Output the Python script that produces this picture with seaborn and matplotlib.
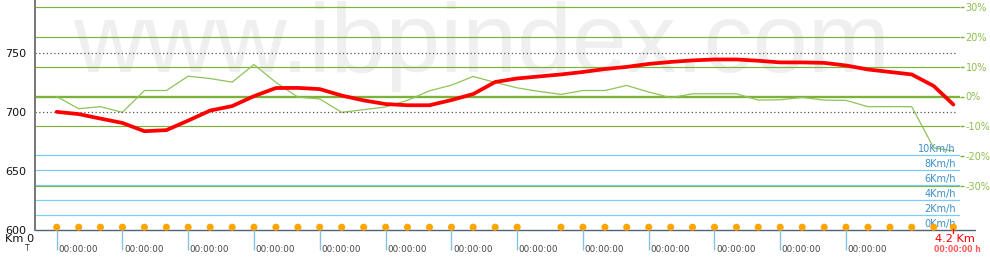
import numpy as np
import pandas as pd
import matplotlib
matplotlib.use("Agg")
import matplotlib.pyplot as plt
from matplotlib.transforms import ScaledTranslation, blended_transform_factory
import seaborn as sns

# ---------------- data ----------------
distance_km = [0.000, 0.103, 0.205, 0.308, 0.411, 0.514, 0.616, 0.719, 0.822, 0.924,
               1.027, 1.130, 1.232, 1.335, 1.438, 1.541, 1.643, 1.746, 1.849, 1.951,
               2.054, 2.157, 2.259, 2.362, 2.465, 2.568, 2.670, 2.773, 2.876, 2.978,
               3.081, 3.184, 3.286, 3.389, 3.492, 3.595, 3.697, 3.800, 3.903, 4.005,
               4.108, 4.200]
elevation_m = [699.7, 697.8, 694.0, 690.3, 683.3, 684.2, 692.3, 700.8, 704.6, 713.0,
               719.9, 720.0, 719.0, 713.5, 709.4, 706.3, 705.3, 705.3, 709.7, 714.8,
               725.0, 728.0, 729.7, 731.4, 733.5, 736.0, 737.8, 740.3, 742.0, 743.3,
               744.1, 744.1, 743.0, 741.6, 741.6, 741.2, 739.0, 735.6, 733.5, 731.4,
               721.6, 705.9]
grade_pct = [0.0, -4.1, -3.4, -5.3, 2.0, 2.0, 6.8, 6.0, 4.8, 10.7,
             4.7, -0.2, -0.8, -5.3, -4.4, -3.5, -1.3, 1.9, 3.8, 6.7,
             4.7, 2.9, 1.7, 0.7, 2.0, 2.0, 3.7, 1.5, -0.4, 0.9,
             0.9, 0.9, -1.2, -1.1, -0.3, -1.2, -1.3, -3.4, -3.4, -3.4,
             -17.2, -18.2]
speed_kmh = [0, 0, 0, 0, 0, 0, 0, 0, 0, 0, 0, 0, 0, 0, 0, 0, 0, 0, 0, 0, 0,
             0, 0, 0, 0, 0, 0, 0, 0, 0, 0, 0, 0, 0, 0, 0, 0, 0, 0, 0, 0, 0]
point_shown = [1, 1, 1, 1, 1, 1, 1, 1, 1, 1, 1, 1, 1, 1, 1, 1, 1, 1, 1, 1, 1,
               1, 0, 1, 1, 1, 1, 1, 1, 1, 1, 1, 1, 1, 1, 1, 1, 1, 1, 1, 1, 1]
time_tick_km = [0.000, 0.308, 0.616, 0.924, 1.232, 1.541, 1.849, 2.157, 2.465,
                2.773, 3.081, 3.389, 3.697]
time_tick_labels = ["00:00:00"] * 13
elev_ticks = [600, 650, 700, 750]
elev_grid = [700, 750]
pct_ticks = [30, 20, 10, 0, -10, -20, -30]
pct_labels = ["30%", "20%", "10%", "0%", "-10%", "-20%", "-30%"]
pct_grid = [30, 20, 10, 0, -10, -30]
speed_ticks = [0, 2, 4, 6, 8, 10]
speed_labels = ["0Km/h", "2Km/h", "4Km/h", "6Km/h", "8Km/h", "10Km/h"]
total_time = "00:00:00 h"

df = pd.DataFrame({"km": distance_km, "elev": elevation_m, "grade": grade_pct,
                   "speed": speed_kmh, "shown": point_shown})

# ---------------- style ----------------
sns.set_theme(style="white")
plt.rcParams["font.family"] = ["DejaVu Sans"]
plt.rcParams["axes.unicode_minus"] = False

W, H, DPI = 990, 270, 100
fig = plt.figure(figsize=(W / DPI, H / DPI), dpi=DPI)
fig.patch.set_facecolor("white")

L, R, T, B = 35, 960, 0, 229.5
rect = [L / W, (H - B) / H, (R - L) / W, (B - T) / H]
ax_el = fig.add_axes(rect)
ax_pc = ax_el.twinx()
ax_sp = ax_el.twinx()

ax_pc.set_zorder(1)
ax_sp.set_zorder(2)
ax_el.set_zorder(3)
ax_pc.patch.set_visible(True)
ax_pc.patch.set_facecolor("white")
ax_sp.patch.set_visible(False)
ax_el.patch.set_visible(False)

px_per_km = 213.5
x0_px = 56.67
ax_el.set_xlim((L - x0_px) / px_per_km, (R - x0_px) / px_per_km)
ax_el.set_ylim(600, 600 + (B - T) / 1.18)
pc_px = 2.99
ax_pc.set_ylim(-(B - 96.5) / pc_px, 96.5 / pc_px)
ax_sp.set_ylim(0, (B - T) / 7.42)

GREEN = "#7db23a"
GREEN_TXT = "#8dbd4e"
BLUE = "#7ccbf2"
BLUE_TXT = "#3d8ec9"

# watermark
ax_pc.text(73 / W, 1 - 72 / H, "www.ibpindex.com", transform=fig.transFigure,
           fontsize=71, family="Liberation Sans", color="#efefef",
           ha="left", va="baseline", zorder=0.5, clip_on=False)

# percent grid (green)
for v in pct_grid:
    ax_pc.axhline(v, color=GREEN, lw=1.7 if v == 0 else 0.85, zorder=1)
sns.lineplot(data=df, x="km", y="grade", ax=ax_pc, color="#8fc356", lw=0.9,
             sort=False, estimator=None, zorder=2)
ax_pc.set_yticks(pct_ticks)
ax_pc.set_yticklabels(pct_labels)
ax_pc.tick_params(axis="y", right=True, left=False, labelright=True, labelleft=False,
                  length=3, width=1, color=GREEN, labelcolor=GREEN_TXT,
                  labelsize=7, pad=1)
ax_pc.set_xlabel("")
ax_pc.set_ylabel("")

# speed grid (blue)
for v, lab in zip(speed_ticks, speed_labels):
    if v > 0:
        ax_sp.axhline(v, color=BLUE, lw=0.9, zorder=1)
    ax_sp.text(0.9957, v, lab, transform=blended_transform_factory(ax_sp.transAxes, ax_sp.transData)
               + ScaledTranslation(0, 1.0 / DPI, fig.dpi_scale_trans),
               ha="right", va="bottom", fontsize=7, color=BLUE_TXT, zorder=3)
ax_sp.axhline(0, xmin=0, xmax=(975 - L) / (R - L), color="#4d6478", lw=1.0,
              clip_on=False, zorder=2)
dots = df[df["shown"] == 1]
sns.scatterplot(data=dots, x="km", y="speed", ax=ax_sp, color="#ffa500", s=26,
                edgecolor="none", linewidth=0, zorder=4, clip_on=False)
coll = ax_sp.collections[-1]
coll.set_offset_transform(ax_sp.transData + ScaledTranslation(0, 2.3 / DPI, fig.dpi_scale_trans))
ax_sp.set_yticks([])
ax_sp.set_xlabel("")
ax_sp.set_ylabel("")

# elevation (red) + dotted grid
for v in elev_grid:
    ax_el.axhline(v, xmin=0, xmax=(955 - L) / (R - L), color="#555555", lw=0.9,
                  ls=(0, (1, 2)), zorder=1)
sns.lineplot(data=df, x="km", y="elev", ax=ax_el, color="#ff0000", lw=2.7,
             sort=False, estimator=None, zorder=5)
ax_el.set_yticks(elev_ticks)
ax_el.tick_params(axis="y", left=True, right=False, length=0, pad=6.5,
                  labelsize=8, labelcolor="#111111")
ax_el.set_xticks(time_tick_km)
ax_el.set_xticklabels([])
ax_el.tick_params(axis="x", bottom=True, top=False, length=14.4, width=1,
                  color="#86c2e6", direction="out")
ax_el.set_xlabel("")
ax_el.set_ylabel("")

for a in (ax_el, ax_pc, ax_sp):
    for s in a.spines.values():
        s.set_visible(False)
ax_el.spines["left"].set_visible(True)
ax_el.spines["left"].set_color("#777777")
ax_el.spines["left"].set_linewidth(1.4)

xtrans = ax_el.get_xaxis_transform()
for x, lab in zip(time_tick_km, time_tick_labels):
    ax_el.text(x, 0, lab, transform=xtrans + ScaledTranslation(1.5 / DPI, -19.8 / DPI, fig.dpi_scale_trans),
               ha="left", va="center", fontsize=6.3, color="#444444", clip_on=False)

end_km = distance_km[-1]
ax_el.axvline(end_km, ymin=-3.5 / (B - T), ymax=0.004, color="#ff0000", lw=1,
              clip_on=False)
ax_el.text(end_km, 0, f"{end_km:.1f} Km",
           transform=xtrans + ScaledTranslation(1.7 / DPI, -9.5 / DPI, fig.dpi_scale_trans),
           ha="center", va="center", fontsize=8.2, color="#ff0000", clip_on=False)
ax_el.text(end_km, 0, total_time,
           transform=xtrans + ScaledTranslation(4.5 / DPI, -20.2 / DPI, fig.dpi_scale_trans),
           ha="center", va="center", fontsize=5.6, fontweight="bold", color="#ff5a5a",
           clip_on=False)

fig.text(5 / W, 1 - 239 / H, "Km 0", ha="left", va="center", fontsize=8.2, color="#111111")
fig.text(27 / W, 1 - 248.5 / H, "T", ha="center", va="center", fontsize=5.5, color="#333333")

fig.savefig("out.png", dpi=DPI, facecolor="white")
